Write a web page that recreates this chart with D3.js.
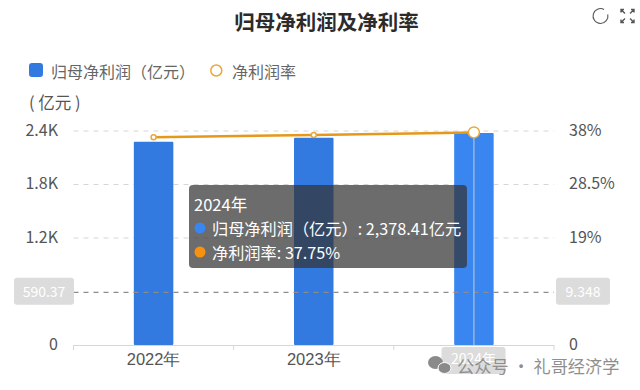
<!DOCTYPE html>
<html>
<head>
<meta charset="utf-8">
<script src="https://cdn.jsdelivr.net/npm/d3@7"></script>
<style>
  html, body { margin: 0; padding: 0; background: #fff; }
  svg { display: block; font-family: "Noto Sans CJK SC", "Noto Sans", sans-serif; }
</style>
</head>
<body>
<div id="chart"></div>
<script>
const years = ['2022年', '2023年', '2024年'];
const profit = [2280, 2325, 2378.41];
const margin = [36.9, 37.3, 37.75];
const leftTicks = [0, 1200, 1800, 2400];
const leftTickLabels = ['0', '1.2K', '1.8K', '2.4K'];
const rightTicks = [0, 19, 28.5, 38];
const rightTickLabels = ['0', '19%', '28.5%', '38%'];
const leftAvg = 590.37;
const rightAvg = 9.348;

const width = 640, height = 390;
const plot = { left: 73.5, right: 554, top: 131, bottom: 345 };

const svg = d3.select('#chart').append('svg')
  .attr('width', width).attr('height', height);

const x = d3.scaleBand().domain(years).range([plot.left, plot.right]);
const yL = d3.scaleLinear().domain([0, 2400]).range([plot.bottom, plot.top]);
const yR = d3.scaleLinear().domain([0, 38]).range([plot.bottom, plot.top]);
const barW = 39.5;
const cx = d => x(d) + x.bandwidth() / 2;

// grid lines
svg.append('g').selectAll('line').data(leftTicks.slice(1))
  .join('line')
  .attr('x1', plot.left).attr('x2', plot.right)
  .attr('y1', d => yL(d)).attr('y2', d => yL(d))
  .attr('stroke', '#d6d6d6').attr('stroke-width', 1).attr('stroke-dasharray', '5 5');

// x axis
const xAxis = svg.append('g').attr('transform', `translate(0,${plot.bottom})`)
  .call(d3.axisBottom(x).tickSize(0).tickPadding(8));
xAxis.select('.domain').remove();
xAxis.selectAll('text').attr('font-size', 16.5).attr('font-family', 'inherit').attr('fill', '#555');
svg.append('line').attr('x1', plot.left).attr('x2', plot.right)
  .attr('y1', plot.bottom + .5).attr('y2', plot.bottom + .5).attr('stroke', '#d6d6d6');
const xEdges = [plot.left, ...years.map(d => x(d) + x.bandwidth())];
svg.append('g').selectAll('line').data(xEdges).join('line')
  .attr('x1', d => d).attr('x2', d => d)
  .attr('y1', plot.bottom).attr('y2', plot.bottom + 5).attr('stroke', '#d6d6d6');

// bars
svg.append('g').selectAll('rect').data(years)
  .join('rect')
  .attr('x', d => cx(d) - barW / 2)
  .attr('y', (d, i) => yL(profit[i]))
  .attr('width', barW)
  .attr('height', (d, i) => plot.bottom - yL(profit[i]))
  .attr('rx', 1)
  .attr('fill', (d, i) => i === 2 ? '#3a86f0' : '#3279e0');

// average lines
svg.append('line').attr('x1', plot.left).attr('x2', plot.right)
  .attr('y1', yL(leftAvg)).attr('y2', yL(leftAvg))
  .attr('stroke', '#8c8c8c').attr('stroke-width', 1.2).attr('stroke-dasharray', '5 5');

// axis pointer on the hovered year
svg.append('line').attr('x1', cx(years[2])).attr('x2', cx(years[2]))
  .attr('y1', yR(margin[2])).attr('y2', plot.bottom)
  .attr('stroke', '#c4cdd8').attr('stroke-width', 1);

// margin line
const line = d3.line().x(d => cx(d[0])).y(d => yR(d[1]));
svg.append('path').datum(years.map((d, i) => [d, margin[i]]))
  .attr('d', line).attr('fill', 'none').attr('stroke', '#e5981a').attr('stroke-width', 2.5);
svg.append('g').selectAll('circle').data(years)
  .join('circle')
  .attr('cx', d => cx(d))
  .attr('cy', (d, i) => yR(margin[i]))
  .attr('r', (d, i) => i === 2 ? 5.5 : 2.5)
  .attr('fill', '#fff').attr('stroke', '#e8a93c').attr('stroke-width', 1.5);

// y tick labels
svg.append('g').selectAll('text').data(leftTicks)
  .join('text')
  .attr('x', 58).attr('y', d => yL(d) - 2.5)
  .attr('text-anchor', 'end').attr('dominant-baseline', 'central')
  .attr('font-size', 16).attr('fill', '#555')
  .text((d, i) => leftTickLabels[i]);
svg.append('g').selectAll('text').data(rightTicks)
  .join('text')
  .attr('x', 569).attr('y', d => yR(d) - 2.5)
  .attr('dominant-baseline', 'central')
  .attr('font-size', 16).attr('fill', '#555')
  .text((d, i) => rightTickLabels[i]);

// average value badges
const badge = (bx, w, label) => {
  const by = yL(leftAvg) - 14.5;
  svg.append('rect').attr('x', bx).attr('y', by).attr('width', w).attr('height', 27)
    .attr('rx', 3).attr('fill', '#dcdcdc');
  svg.append('text').attr('x', bx + w / 2).attr('y', by + 13)
    .attr('text-anchor', 'middle').attr('dominant-baseline', 'central')
    .attr('font-size', 14).attr('fill', '#fff').text(label);
};
badge(14, 60, leftAvg);
badge(556, 54, rightAvg);

// title
svg.append('text').attr('x', 326.5).attr('y', 21)
  .attr('text-anchor', 'middle').attr('dominant-baseline', 'central')
  .attr('font-size', 20.5).attr('font-weight', 700).attr('fill', '#2b2b2b')
  .text('归母净利润及净利率');

// legend
svg.append('rect').attr('x', 29).attr('y', 63).attr('width', 14).attr('height', 14)
  .attr('rx', 3).attr('fill', '#3279e0');
svg.append('text').attr('x', 51).attr('y', 70.5).attr('dominant-baseline', 'central')
  .attr('font-size', 16).attr('fill', '#666').text('归母净利润（亿元）');
svg.append('circle').attr('cx', 216.3).attr('cy', 70.5).attr('r', 5.5)
  .attr('fill', '#fff').attr('stroke', '#e8a93c').attr('stroke-width', 1.5);
svg.append('text').attr('x', 232).attr('y', 70.5).attr('dominant-baseline', 'central')
  .attr('font-size', 16).attr('fill', '#666').text('净利润率');

svg.append('text').attr('x', 29).attr('y', 102).attr('dominant-baseline', 'central')
  .attr('font-size', 16.5).attr('fill', '#555').text('( 亿元 )');

// toolbar icons
const refresh = d3.arc().innerRadius(6.9).outerRadius(8).startAngle(1.35).endAngle(2 * Math.PI + 0.5);
svg.append('path').attr('transform', 'translate(600.5,16)').attr('d', refresh).attr('fill', '#555');
const corners = [[1, -1], [1, 1], [-1, 1], [-1, -1]];
svg.append('g').attr('transform', 'translate(627.5,16)').selectAll('path').data(corners)
  .join('path')
  .attr('d', d => `M${d[0] * 2.5} ${d[1] * 2.5}L${d[0] * 6.5} ${d[1] * 6.5}M${d[0] * 6.5} ${d[1] * 3.5}V${d[1] * 6.5}H${d[0] * 3.5}`)
  .attr('fill', 'none').attr('stroke', '#555').attr('stroke-width', 1.4);

// tooltip
const tip = svg.append('g').attr('transform', 'translate(189,185)');
tip.append('rect').attr('width', 278).attr('height', 83).attr('rx', 4)
  .attr('fill', '#333').attr('fill-opacity', .72);
tip.append('text').attr('x', 5).attr('y', 18.5).attr('dominant-baseline', 'central')
  .attr('font-size', 16.5).attr('fill', '#fff').text(years[2]);
tip.append('circle').attr('cx', 11).attr('cy', 43).attr('r', 5.5).attr('fill', '#3a86f0');
tip.append('text').attr('x', 23).attr('y', 43).attr('dominant-baseline', 'central')
  .attr('font-size', 16.2).attr('fill', '#fff')
  .text(`归母净利润（亿元）: ${d3.format(',.2f')(profit[2])}亿元`);
tip.append('circle').attr('cx', 11).attr('cy', 67).attr('r', 5.5).attr('fill', '#f7920f');
tip.append('text').attr('x', 23).attr('y', 67).attr('dominant-baseline', 'central')
  .attr('font-size', 16.2).attr('fill', '#fff')
  .text(`净利润率: ${margin[2]}%`);

// highlighted x label under the watermark
svg.append('rect').attr('x', 441.5).attr('y', 347).attr('width', 64).attr('height', 27)
  .attr('rx', 3).attr('fill', '#dcdcdc');
svg.append('text').attr('x', 473.5).attr('y', 358).attr('text-anchor', 'middle')
  .attr('dominant-baseline', 'central').attr('font-size', 14).attr('fill', '#fff').text(years[2]);

// watermark
const wm = svg.append('g').attr('fill', '#8a8a8a');
wm.append('ellipse').attr('cx', 435.5).attr('cy', 362.5).attr('rx', 7.5).attr('ry', 6.5);
wm.append('ellipse').attr('cx', 444.5).attr('cy', 368).attr('rx', 6.5).attr('ry', 5.5).attr('stroke', '#fff').attr('stroke-width', 1);
svg.append('text').attr('x', 457).attr('y', 365).attr('dominant-baseline', 'central')
  .attr('font-size', 17.2).attr('fill', '#8f8f8f').text('公众号 · 礼哥经济学');
</script>
</body>
</html>
